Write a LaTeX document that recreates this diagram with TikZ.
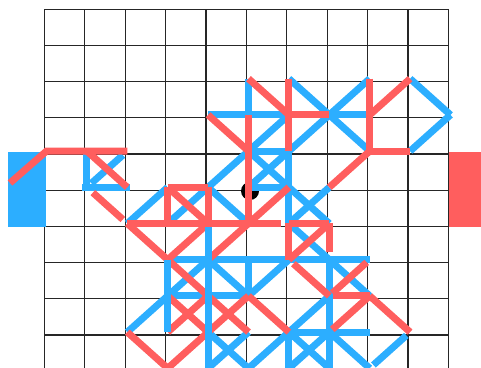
\documentclass[tikz,border=0pt]{standalone}
\definecolor{myblue}{RGB}{44,174,255}
\definecolor{myred}{RGB}{255,94,94}
\begin{document}
\begin{tikzpicture}[x=40.4pt,y=-36.2pt,
  gl/.style={line width=1.2pt,draw=black!85},
  bl/.style={line width=7pt,draw=myblue},
  rl/.style={line width=7pt,draw=myred}]
\path[use as bounding box] (-1.1015,-0.2569) rectangle (10.8045,9.9088);
\clip (-1.1015,-0.2569) rectangle (10.8045,9.9088);
% grid
\foreach \i in {0,...,10} {\draw[gl] (\i,0) -- (\i,10);}
\foreach \j in {0,...,10} {\draw[gl] (0,\j) -- (10,\j);}
% bases
\fill[myblue] (-0.9035,3.942) rectangle (0.037,6.014);
\fill[myred] (10.012,3.942) rectangle (10.9,6.014);
% dot
\fill[black] (5.087,5.019) circle (9pt);
\begin{scope}[xshift=2pt,yshift=3pt]
% blue moves
\draw[bl] (1,4) -- (1,5);
\draw[bl] (0.88,5) -- (2.07,5);
\draw[bl,shorten >=6pt,shorten <=6pt] (2,4) -- (1,5);
\draw[bl] (2,6) -- (3,5);
\draw[bl] (3,6) -- (6,3);
\draw[bl] (4,5) -- (5,6);
\draw[bl] (4,3) -- (6,3);
\draw[bl] (5,2) -- (5,3);
\draw[bl] (6,2) -- (8,4);
\draw[bl] (6,4) -- (8,2);
\draw[bl] (7,3) -- (8,3);
\draw[bl] (9,2) -- (10,3);
\draw[bl] (10,3) -- (9,4);
\draw[bl] (5,4) -- (6,4);
\draw[bl] (5,4) -- (6,5);
\draw[bl] (5,5) -- (6,4);
\draw[bl] (5,5) -- (6,5);
\draw[bl] (6,4) -- (6,6);
\draw[bl] (6,5) -- (7,6);
\draw[bl] (6,6) -- (7,5);
\draw[bl] (6,6) -- (8,8);
\draw[bl] (3,7) -- (8,7);
\draw[bl] (7,7) -- (7,10);
\draw[bl] (5,8) -- (6,7);
\draw[bl] (3,8) -- (4,7);
\draw[bl] (4,7) -- (5,8);
\draw[bl] (5,7) -- (5,8);
\draw[bl] (3,8) -- (5,8);
\draw[bl] (2,9) -- (3,8);
\draw[bl] (4,9) -- (5,10);
\draw[bl] (4,10) -- (5,9);
\draw[bl] (5,10) -- (6,9);
\draw[bl] (6,9) -- (7,8);
\draw[bl] (6,9) -- (8,9);
\draw[bl] (6,9) -- (6,10);
\draw[bl] (6,9) -- (7,10);
\draw[bl] (6,10) -- (7,9);
\draw[bl] (7,9) -- (8,10);
\draw[bl,shorten <=5pt,shorten >=5pt] (9,9) -- (8,10);
% red moves
\draw[rl] (-0.9035,4.88) -- (0,4) -- (2,4);
\draw[rl] (1,4) -- (2,5);
\draw[rl,shorten <=8pt,shorten >=6pt] (1,5) -- (2,6);
\draw[rl] (2,6) -- (3,7);
\draw[rl] (3,5) -- (4,5);
\draw[rl] (3,5) -- (3,6);
\draw[rl] (4,5) -- (4,6);
\draw[rl] (3,5) -- (4,6);
\draw[rl] (4,3) -- (5,4);
\draw[rl] (5,3) -- (5,6);
\draw[rl] (6,2) -- (6,4);
\draw[rl] (5,2) -- (6,3);
\draw[rl] (6,3) -- (7,3);
\draw[rl] (8,2) -- (8,4);
\draw[rl] (9,2) -- (8,3);
\draw[rl] (8,4) -- (9,4);
\draw[rl] (8,4) -- (7,5);
\draw[rl] (4,7) -- (6,5);
\draw[rl] (6,6) -- (6,7);
\draw[rl] (6,6) -- (7,6);
\draw[rl,shorten >=8pt] (7,6) -- (7,7);
\draw[rl] (6,7) -- (7,6);
\draw[rl,shorten <=6pt] (6,7) -- (7,8);
\draw[rl,shorten <=4pt,shorten >=4pt] (7,8) -- (8,7);
\draw[rl,shorten <=4pt] (7,8) -- (8,8);
\draw[rl,shorten <=4pt] (7,9) -- (8,8);
\draw[rl] (8,8) -- (9,9);
\draw[rl] (2,9) -- (3,10);
\draw[rl] (3,10) -- (4,9);
\draw[rl] (3,8) -- (4,9);
\draw[rl] (3,9) -- (4,8);
\draw[rl] (4,8) -- (5,9);
\draw[rl] (4,9) -- (5,8);
\draw[rl] (5,8) -- (6,9);
\draw[rl] (3,7) -- (4,8);
\draw[rl] (3,7) -- (4,6);
% blue verticals on top
\draw[bl] (4,6.1) -- (4,10);
\draw[bl] (3,7) -- (3,9);
\draw[rl,shorten >=8pt] (2,6) -- (6,6);
\end{scope}
\end{tikzpicture}
\end{document}
